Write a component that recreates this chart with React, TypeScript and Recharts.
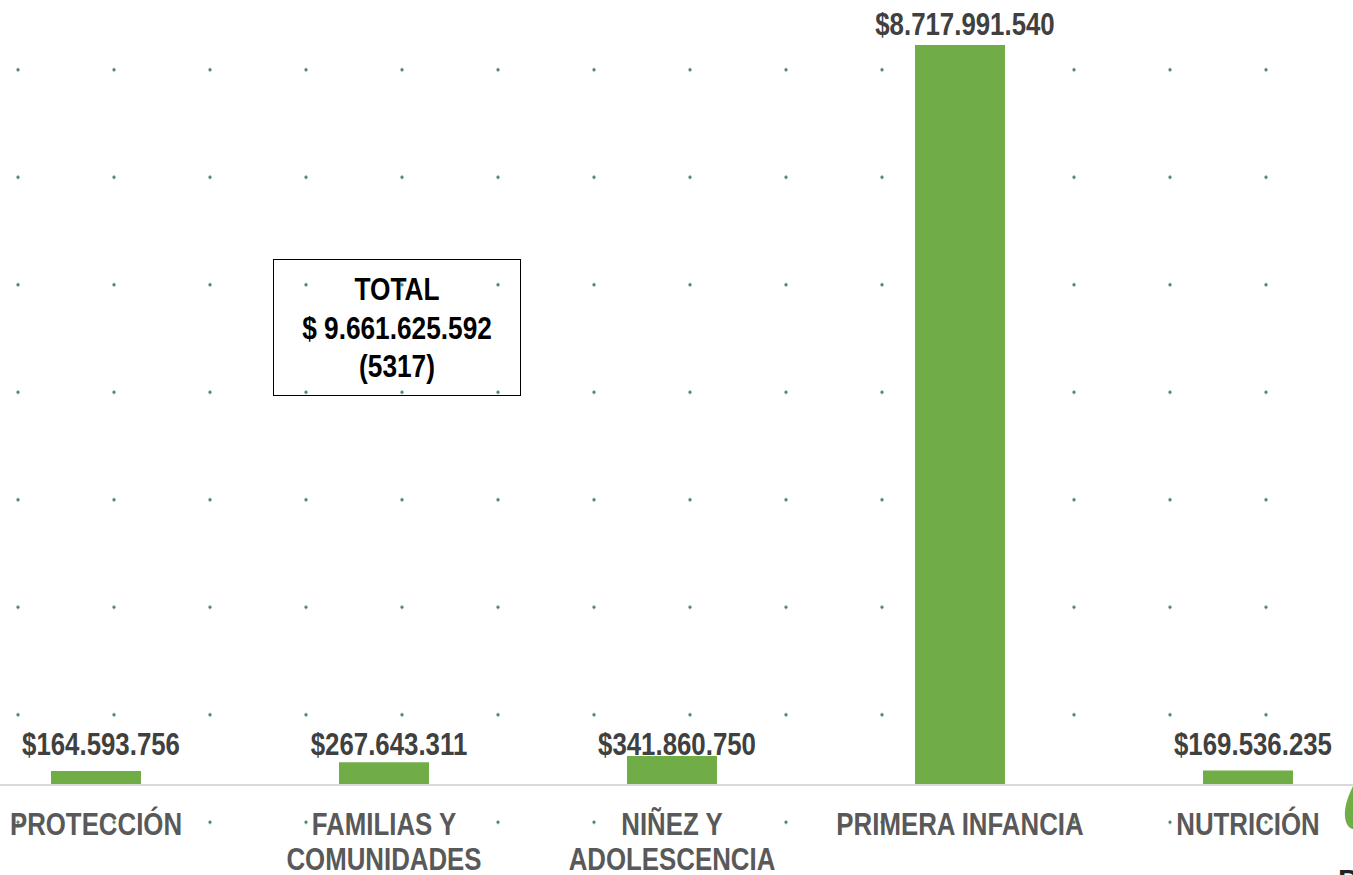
import React from "react";
import { BarChart, Bar, XAxis, YAxis, LabelList } from "recharts";

const categories = ["PROTECCIÓN", "FAMILIAS Y COMUNIDADES", "NIÑEZ Y ADOLESCENCIA", "PRIMERA INFANCIA", "NUTRICIÓN"];
const tickLines = [["PROTECCIÓN"], ["FAMILIAS Y", "COMUNIDADES"], ["NIÑEZ Y", "ADOLESCENCIA"], ["PRIMERA INFANCIA"], ["NUTRICIÓN"]];
const values = [164593756, 267643311, 341860750, 8717991540, 169536235];
const totalCount = 5317;

const data = categories.map((c, i) => ({ name: c, value: values[i], lines: tickLines[i] }));
const total = values.reduce((a, b) => a + b, 0);

const FONT = '"Liberation Sans", Arial, sans-serif';
const SX = 0.82;

const fmt = (v: number) => String(Math.round(v)).replace(/\B(?=(\d{3})+(?!\d))/g, ".");

const narrow = (cx: number) => `translate(${cx} 0) scale(${SX} 1) translate(${-cx} 0)`;

const Tick = (props: any) => {
  const { x, y, payload } = props;
  const lines: string[] = tickLines[payload.index] || [payload.value];
  return (
    <text x={x} y={y} transform={narrow(x)} textAnchor="middle" fontFamily={FONT} fontWeight="bold" fontSize={31.5} fill="#595959">
      {lines.map((l, i) => (
        <tspan key={i} x={x} y={y + 50 + i * 35}>{l}</tspan>
      ))}
    </text>
  );
};

const ValueLabel = (props: any) => {
  const { x, y, width, height, value } = props;
  const bottom = y + height;
  const baseline = height < 60 ? bottom - 30 : y - 10;
  const cx = x + width / 2 + 5;
  return (
    <text x={cx} y={baseline} transform={narrow(cx)} textAnchor="middle" fontFamily={FONT} fontWeight="bold" fontSize={31.5} fill="#404040">
      {"$" + fmt(value)}
    </text>
  );
};

const lineStyle: React.CSSProperties = { transform: `scaleX(${SX})`, whiteSpace: "nowrap" };

export default function App() {
  return (
    <div
      style={{
        position: "absolute",
        left: 0,
        top: 0,
        width: 1353,
        height: 875,
        overflow: "hidden",
        background: "#ffffff",
        backgroundImage: "radial-gradient(circle, #4f8060 1.3px, rgba(255,255,255,0) 1.9px)",
        backgroundSize: "96px 107.5px",
        backgroundPosition: "-30px 16px",
      }}
    >
      <div style={{ position: "absolute", left: -48, top: 0 }}>
        <BarChart width={1440} height={875} data={data} margin={{ top: 45, right: 0, bottom: 0, left: 0 }}>
          <XAxis
            dataKey="name"
            height={90}
            tickLine={false}
            tickSize={0}
            tickMargin={0}
            axisLine={{ stroke: "#d9d9d9", strokeWidth: 2 }}
            tick={<Tick />}
            interval={0}
          />
          <YAxis hide domain={[0, "dataMax"]} />
          <Bar dataKey="value" fill="#70ad47" barSize={90} isAnimationActive={false}>
            <LabelList dataKey="value" content={<ValueLabel />} />
          </Bar>
        </BarChart>
      </div>
      <div
        style={{
          position: "absolute",
          left: 273,
          top: 259,
          width: 248,
          height: 137,
          border: "1.5px solid #000",
          boxSizing: "border-box",
          fontFamily: FONT,
          fontWeight: "bold",
          fontSize: 32,
          color: "#000",
          textAlign: "center",
          lineHeight: "38.5px",
          paddingTop: 10,
        }}
      >
        <div style={lineStyle}>TOTAL</div>
        <div style={lineStyle}>{"$ " + fmt(total)}</div>
        <div style={lineStyle}>{"(" + totalCount + ")"}</div>
      </div>
      <svg style={{ position: "absolute", left: 0, top: 0 }} width={1353} height={875}>
        <path d="M1353,786 C1346,800 1343,812 1346,822 C1348,827 1351,829 1353,829 Z" fill="#70ad47" />
        <text x={1338} y={890} fontFamily={FONT} fontWeight="bold" fontSize={30} fill="#222">P</text>
      </svg>
    </div>
  );
}
